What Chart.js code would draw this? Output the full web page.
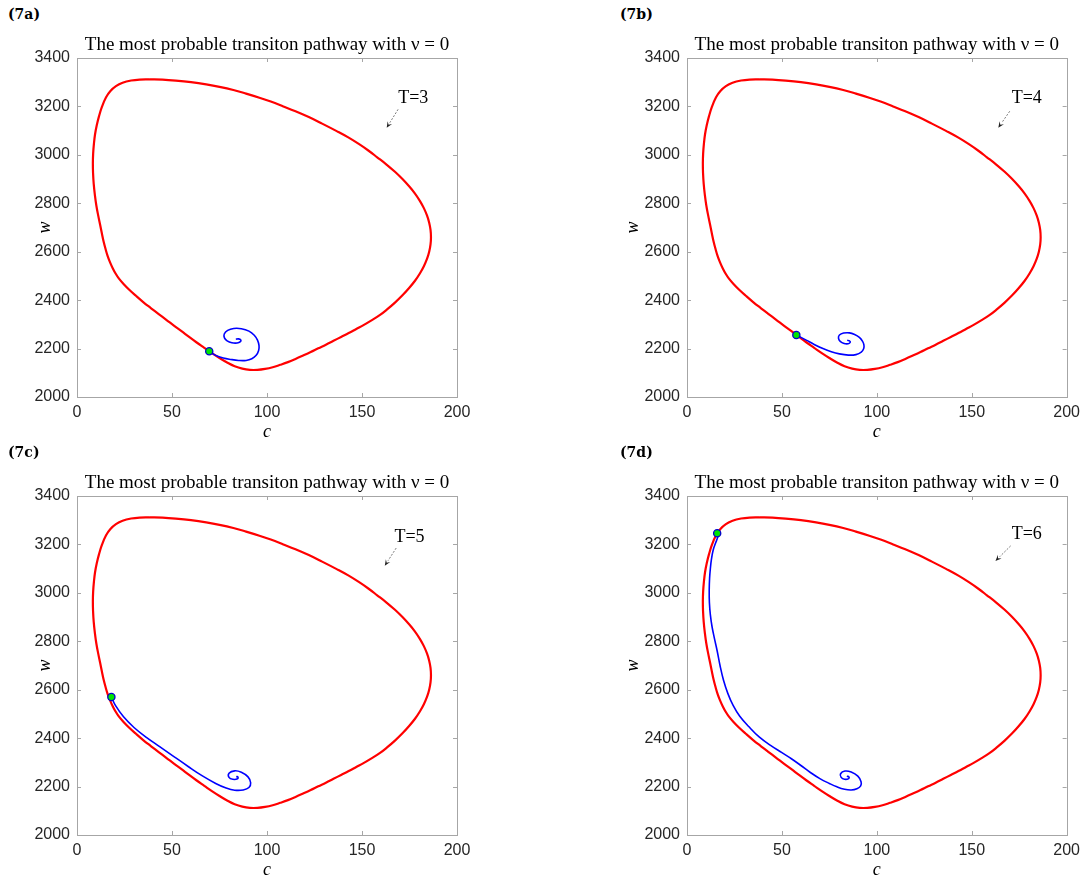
<!DOCTYPE html>
<html><head><meta charset="utf-8">
<script src="https://cdn.jsdelivr.net/npm/chart.js@4.4.0/dist/chart.umd.min.js"></script>
<style>
html,body{margin:0;padding:0;background:#fff;overflow:hidden;width:1086px;height:877px;}
.panel{position:absolute;}
.plabel{position:absolute;font:bold 14px "DejaVu Serif";color:#000;line-height:16px;}
</style></head><body>
<script>
// ---------- data ----------
const xTicks = [0, 50, 100, 150, 200];
const yTicks = [2000, 2200, 2400, 2600, 2800, 3000, 3200, 3400];

// limit cycle (red), starting at the top of the loop
const cycleC = [38, 45, 52, 60, 68, 75, 82.3, 89, 96, 102, 108.6, 115, 122, 129, 136.7, 143, 148.5, 153.5, 158, 162.9,
  167.35, 171.3, 174.8, 177.9, 180.45, 182.56, 184.2, 185.36, 186.07, 186.3, 186.07, 185.36, 184.2, 182.56, 180.45, 177.9, 174.8, 171.3, 167.35, 162.9,
  159.5, 155, 151, 147, 143, 139, 135, 131, 127, 123, 119, 115, 111, 107, 103, 99, 95, 91, 87, 83, 79, 75, 71, 67, 63, 59, 55, 51, 47, 43, 39, 35, 31, 27.5, 24.5, 22,
  20.3, 18.8, 17.4, 16.1, 15.0, 14.0, 13.1, 12.2, 11.2, 10.2, 9.4, 8.8, 8.45, 8.35, 8.5, 8.9, 9.5, 10.4, 11.6, 13.2, 15.3, 17.6, 20.5, 24, 28.5, 33, 38];
const cycleW = [3312, 3310.5, 3306.5, 3300, 3291, 3281, 3268, 3253, 3236, 3220, 3200, 3180, 3156, 3129, 3098, 3071, 3044, 3017, 2990, 2960,
  2930, 2900, 2870, 2840, 2810, 2780, 2750, 2720, 2690, 2660, 2630, 2600, 2570, 2540, 2510, 2480, 2450, 2420, 2390, 2360,
  2339, 2316.5, 2298, 2281, 2264, 2248, 2232, 2216, 2201, 2185.5, 2171, 2157, 2144, 2133, 2123, 2116, 2112, 2112, 2117, 2127, 2142.5, 2161, 2181, 2203, 2225, 2248, 2272, 2295, 2319, 2342.5, 2366.5, 2391, 2418, 2443, 2467, 2490,
  2510, 2532, 2556, 2583, 2612, 2642, 2675, 2710, 2748, 2790, 2835, 2880, 2925, 2965, 3005, 3045, 3085, 3122, 3160, 3200, 3238, 3264, 3284, 3298, 3307, 3311, 3312];

// most probable transition pathways (blue), from the point on the cycle to the stable focus
const pathAC = [69.6, 73, 77, 81, 85, 89, 92, 94.3, 95.6, 95.8, 95, 93.3, 90.5, 86.5, 82.5, 79.3, 77.5, 77.6, 79, 81.5, 84.3, 86, 86.2, 85, 83.6];
const pathAW = [2189, 2172, 2161, 2155, 2151, 2151, 2158, 2172, 2192, 2212, 2235, 2255, 2272, 2282, 2283, 2275, 2260, 2244, 2232, 2224, 2223, 2229, 2236, 2240, 2239];

const pathBC = [57.6, 62.8, 67, 71.6, 76, 80.3, 85, 89, 91.8, 93.1, 93.2, 92.5, 90.8, 88.3, 85.5, 82.5, 80.3, 79.8, 80.7, 82.8, 84.9, 86, 85.6, 84.4];
const pathBW = [2256, 2235, 2217, 2200, 2187, 2178, 2173, 2175, 2185, 2200, 2215, 2230, 2246, 2258, 2265, 2264, 2256, 2243, 2230, 2221, 2220, 2226, 2232, 2234];

const pathCC = [18.1, 20.3, 24.5, 30, 36.5, 43.5, 51, 58.5, 66, 73, 78.5, 83, 87.5, 90.5, 91.4, 90, 86.5, 83, 80, 80, 82, 84.5, 84.7, 83.8];
const pathCW = [2570, 2534, 2488, 2444, 2403, 2365, 2324, 2283, 2244, 2213, 2194, 2185, 2186, 2196, 2216, 2240, 2259, 2265, 2255, 2238, 2230, 2232, 2239, 2242];

const pathDC = [15.9, 16.3, 15.0, 13.8, 12.9, 12.3, 11.9, 11.7, 11.8, 12.3, 13.2, 14.5, 15.9, 17.4, 19.2, 21.5, 24.3, 27.8, 32.5, 38, 44, 50, 55, 60, 65, 70, 75, 79, 83, 86.5, 89.5, 91.5, 91.7, 90, 86.5, 83.2, 80.9, 81.2, 83, 85.2, 85.3, 84.2];
const pathDW = [3246, 3234, 3205, 3177, 3140, 3100, 3060, 3010, 2960, 2910, 2860, 2810, 2760, 2700, 2640, 2585, 2535, 2490, 2448, 2405, 2370, 2340, 2315, 2287, 2258, 2233, 2213, 2199, 2189, 2186, 2191, 2203, 2220, 2243, 2260, 2264, 2253, 2238, 2230, 2233, 2240, 2243];

// endpoint on the limit cycle
const dotC = [69.6, 57.6, 18.1, 15.9];
const dotW = [2189, 2256, 2570, 3246];

const tLabels = ['T=3', 'T=4', 'T=5', 'T=6'];
const panelTags = ['(7a)', '(7b)', '(7c)', '(7d)'];
const titleText = 'The most probable transiton pathway with \u03bd = 0';
const xLabel = 'c';
const yLabel = 'w';

// ---------- layout (positions only) ----------
const panels = [
  {left: 0,   top: 0,   width: 543, padR: 86, yPad: 29, tagX: 8,   tagY: 6,   pc: pathAC, pw: pathAW,
   txt: [177, 3232], tail: [169, 3188], head: [163, 3112]},
  {left: 610, top: 0,   width: 476, padR: 18, yPad: 7,  tagX: 620, tagY: 6,   pc: pathBC, pw: pathBW,
   txt: [179, 3232], tail: [170, 3180], head: [164, 3112]},
  {left: 0,   top: 438, width: 543, padR: 86, yPad: 29, tagX: 8,   tagY: 444, pc: pathCC, pw: pathCW,
   txt: [175, 3228], tail: [168, 3185], head: [162, 3112]},
  {left: 610, top: 438, width: 476, padR: 18, yPad: 7,  tagX: 620, tagY: 444, pc: pathDC, pw: pathDW,
   txt: [179, 3240], tail: [170.5, 3194], head: [162.5, 3132]}
];
const H = 445;
const AXIS_GRAY = '#a6a6a6';
const TEXT = '#262626';

const toXY = (cs, ws) => cs.map((c, i) => ({x: c, y: ws[i]}));

const boxPlugin = {
  id: 'boxTicks',
  beforeDatasetsDraw(chart) {
    const {ctx, chartArea: a, scales: {x, y}} = chart;
    ctx.save();
    ctx.strokeStyle = AXIS_GRAY;
    ctx.lineWidth = 1;
    ctx.strokeRect(Math.round(a.left) + 0.5, Math.round(a.top) + 0.5, Math.round(a.right - a.left), Math.round(a.bottom - a.top));
    const L = 4;
    ctx.beginPath();
    xTicks.forEach(v => {
      const px = Math.round(x.getPixelForValue(v)) + 0.5;
      ctx.moveTo(px, a.bottom); ctx.lineTo(px, a.bottom - L);
      ctx.moveTo(px, a.top); ctx.lineTo(px, a.top + L);
    });
    yTicks.forEach(v => {
      const py = Math.round(y.getPixelForValue(v)) + 0.5;
      ctx.moveTo(a.left, py); ctx.lineTo(a.left + L, py);
      ctx.moveTo(a.right, py); ctx.lineTo(a.right - L, py);
    });
    ctx.stroke();
    ctx.restore();
  },
  afterDraw(chart, args, opts) {
    const {ctx, scales: {x, y}} = chart;
    const p = opts.panel;
    ctx.save();
    ctx.fillStyle = '#000';
    ctx.font = '18px "Liberation Serif"';
    ctx.textAlign = 'center';
    ctx.textBaseline = 'middle';
    ctx.fillText(opts.label, x.getPixelForValue(p.txt[0]), y.getPixelForValue(p.txt[1]));
    const x0 = x.getPixelForValue(p.tail[0]), y0 = y.getPixelForValue(p.tail[1]);
    const x1 = x.getPixelForValue(p.head[0]), y1 = y.getPixelForValue(p.head[1]);
    const ang = Math.atan2(y1 - y0, x1 - x0);
    const hl = 6, hw = 2.6;
    const bx = x1 - hl * Math.cos(ang), by = y1 - hl * Math.sin(ang);
    ctx.strokeStyle = '#444';
    ctx.lineWidth = 0.7;
    ctx.setLineDash([2, 1.5]);
    ctx.beginPath(); ctx.moveTo(x0, y0); ctx.lineTo(bx, by); ctx.stroke();
    ctx.setLineDash([]);
    ctx.fillStyle = '#222';
    ctx.beginPath();
    ctx.moveTo(x1, y1);
    ctx.lineTo(bx + hw * Math.sin(ang), by - hw * Math.cos(ang));
    ctx.lineTo(x1 - 0.6 * hl * Math.cos(ang), y1 - 0.6 * hl * Math.sin(ang));
    ctx.lineTo(bx - hw * Math.sin(ang), by + hw * Math.cos(ang));
    ctx.closePath(); ctx.fill();
    ctx.restore();
  }
};

panels.forEach((p, i) => {
  const tag = document.createElement('div');
  tag.className = 'plabel';
  tag.style.left = p.tagX + 'px';
  tag.style.top = p.tagY + 'px';
  tag.textContent = panelTags[i];
  document.body.appendChild(tag);

  const div = document.createElement('div');
  div.className = 'panel';
  div.style.left = p.left + 'px';
  div.style.top = p.top + 'px';
  const cv = document.createElement('canvas');
  cv.width = p.width; cv.height = H;
  cv.style.width = p.width + 'px'; cv.style.height = H + 'px';
  div.appendChild(cv);
  document.body.appendChild(div);

  new Chart(cv, {
    type: 'scatter',
    data: {
      datasets: [
        {data: toXY(cycleC, cycleW), showLine: true, borderColor: '#ff0000', borderWidth: 2.2,
         pointRadius: 0, tension: 0.4, fill: false, order: 3},
        {data: toXY(p.pc, p.pw), showLine: true, borderColor: '#0000ff', borderWidth: 1.6,
         pointRadius: 0, tension: 0.4, fill: false, order: 2},
        {data: [{x: dotC[i], y: dotW[i]}], showLine: false, pointRadius: 3.6,
         pointBackgroundColor: '#00e600', pointBorderColor: '#0000cc', pointBorderWidth: 1.3, order: 1}
      ]
    },
    options: {
      responsive: false,
      animation: false,
      devicePixelRatio: 1,
      layout: {padding: {left: 5, right: p.padR, top: 0, bottom: 0}},
      plugins: {
        legend: {display: false},
        tooltip: {enabled: false},
        title: {display: true, text: titleText, fullSize: false, color: '#000',
                font: {family: 'Liberation Serif', size: 19, weight: 'normal', lineHeight: 1.2},
                padding: {top: 33.6, bottom: 1.6}},
        boxTicks: {panel: p, label: tLabels[i]}
      },
      scales: {
        x: {
          type: 'linear', min: 0, max: 200,
          afterBuildTicks: s => { s.ticks = xTicks.map(v => ({value: v})); },
          afterFit: s => { s.height = 48; },
          grid: {display: false, drawTicks: false},
          border: {display: false},
          ticks: {color: TEXT, font: {family: 'Liberation Sans', size: 16}, padding: 6, maxRotation: 0,
                  callback: v => String(v)},
          title: {display: true, text: xLabel, color: '#000',
                  font: {family: 'Liberation Serif', size: 18, style: 'italic', lineHeight: 1.2},
                  padding: {top: 0, bottom: 2.2}}
        },
        y: {
          type: 'linear', min: 2000, max: 3400,
          afterBuildTicks: s => { s.ticks = yTicks.map(v => ({value: v})); },
          afterFit: s => { s.width = 72; },
          grid: {display: false, drawTicks: false},
          border: {display: false},
          ticks: {color: TEXT, font: {family: 'Liberation Sans', size: 16}, padding: 7,
                  callback: v => String(v)},
          title: {display: true, text: yLabel, color: '#000',
                  font: {family: 'Liberation Serif', size: 18, style: 'italic', lineHeight: 1.2},
                  padding: {top: p.yPad, bottom: 0}}
        }
      }
    },
    plugins: [boxPlugin]
  });
});
</script>
</body></html>
